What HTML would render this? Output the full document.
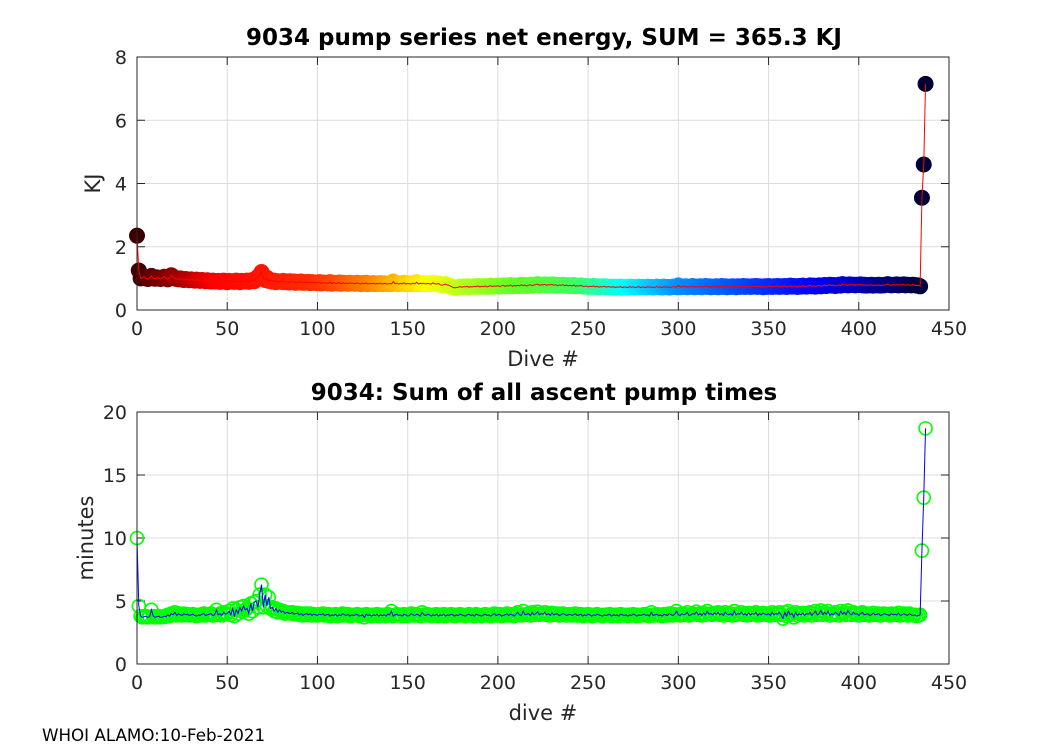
<!DOCTYPE html>
<html><head><meta charset="utf-8">
<style>
body{margin:0;background:#fff;}
svg{display:block;font-family:"DejaVu Sans","Liberation Sans",sans-serif;}
</style></head>
<body>
<svg id="chart" width="1050" height="750" viewBox="0 0 1050 750"></svg>
<script>
const energyKJ=[2.35,1.25,1.0,1.02,1.05,1.0,0.98,1.02,1.08,1.0,0.99,1.03,1.0,0.98,1.01,1.05,1.0,0.97,1.02,1.1,
1.05,1.0,0.98,0.97,1.0,0.96,0.95,0.98,0.96,0.94,0.97,0.95,0.93,0.96,0.94,0.92,0.95,0.93,0.91,0.94,
0.92,0.9,0.93,0.91,0.9,0.92,0.89,0.91,0.93,0.9,0.88,0.92,0.9,0.91,0.89,0.93,0.9,0.88,0.92,0.91,
0.9,0.93,0.89,0.92,0.95,0.91,1.0,1.05,1.1,1.2,1.0,0.95,1.02,0.92,0.95,0.9,0.93,0.88,0.91,0.9,
0.89,0.92,0.88,0.9,0.87,0.91,0.88,0.9,0.86,0.89,0.87,0.9,0.86,0.88,0.87,0.89,0.85,0.88,0.86,0.87,
0.85,0.88,0.84,0.87,0.85,0.86,0.84,0.88,0.83,0.86,0.85,0.84,0.87,0.83,0.86,0.84,0.85,0.83,0.86,0.84,
0.85,0.83,0.86,0.84,0.82,0.85,0.83,0.86,0.82,0.84,0.83,0.85,0.82,0.84,0.83,0.85,0.82,0.84,0.83,0.82,
0.84,0.82,0.9,0.83,0.85,0.82,0.84,0.83,0.86,0.82,0.84,0.83,0.82,0.85,0.83,0.88,0.82,0.84,0.83,0.85,
0.82,0.84,0.83,0.82,0.86,0.83,0.82,0.84,0.8,0.78,0.8,0.82,0.79,0.78,0.75,0.72,0.7,0.71,0.72,0.74,
0.72,0.74,0.73,0.75,0.72,0.74,0.73,0.75,0.74,0.76,0.73,0.75,0.74,0.76,0.73,0.75,0.77,0.74,0.76,0.75,
0.77,0.74,0.76,0.78,0.75,0.77,0.76,0.79,0.75,0.77,0.76,0.78,0.76,0.8,0.77,0.79,0.76,0.78,0.8,0.77,
0.79,0.8,0.82,0.78,0.8,0.79,0.81,0.78,0.8,0.79,0.81,0.78,0.8,0.77,0.79,0.78,0.8,0.77,0.79,0.76,
0.78,0.76,0.79,0.75,0.77,0.76,0.78,0.75,0.74,0.76,0.73,0.75,0.74,0.76,0.73,0.75,0.72,0.74,0.73,0.75,
0.72,0.74,0.73,0.72,0.74,0.71,0.73,0.72,0.74,0.71,0.73,0.72,0.71,0.74,0.72,0.73,0.71,0.72,0.74,0.71,
0.73,0.72,0.71,0.74,0.72,0.73,0.71,0.72,0.74,0.72,0.73,0.71,0.74,0.72,0.73,0.71,0.72,0.74,0.73,0.72,
0.78,0.72,0.74,0.73,0.75,0.72,0.74,0.73,0.76,0.72,0.74,0.73,0.75,0.72,0.74,0.76,0.73,0.75,0.72,0.74,
0.73,0.75,0.72,0.74,0.76,0.73,0.75,0.72,0.74,0.73,0.75,0.74,0.72,0.75,0.73,0.74,0.76,0.73,0.75,0.74,
0.73,0.75,0.74,0.76,0.73,0.75,0.74,0.72,0.75,0.73,0.76,0.74,0.73,0.75,0.74,0.76,0.73,0.75,0.74,0.76,
0.73,0.75,0.77,0.74,0.76,0.75,0.73,0.76,0.74,0.77,0.75,0.74,0.76,0.78,0.75,0.77,0.74,0.76,0.78,0.75,
0.77,0.79,0.76,0.78,0.8,0.77,0.79,0.76,0.78,0.8,0.77,0.82,0.79,0.8,0.78,0.81,0.79,0.8,0.78,0.8,
0.79,0.81,0.78,0.8,0.77,0.79,0.78,0.8,0.77,0.79,0.78,0.8,0.77,0.79,0.78,0.8,0.82,0.79,0.78,0.8,
0.79,0.81,0.78,0.8,0.79,0.81,0.78,0.8,0.79,0.78,0.8,0.79,0.77,0.78,0.75,3.55,4.6,7.15];
const pumpMinutes=[10,4.6,3.8,3.7,3.75,3.8,3.7,3.75,4.3,3.8,3.7,3.75,3.8,3.7,3.72,3.8,3.75,3.9,3.8,4.0,
3.9,4.1,3.85,4.0,3.9,3.85,4.0,3.9,3.95,3.85,3.9,3.95,3.85,3.8,3.9,3.85,3.95,4.0,3.85,3.9,
3.95,4.0,3.85,3.9,4.3,3.9,4.0,3.85,4.1,3.95,4.0,4.2,3.9,4.4,3.8,4.3,4.0,4.5,4.2,4.6,
4.3,4.4,4.0,4.8,4.2,4.9,5.0,4.5,5.5,6.3,4.5,5.5,4.6,5.3,4.4,4.5,4.2,4.4,4.1,4.3,
4.1,4.2,4.0,4.1,4.05,4.0,4.1,3.95,4.0,4.05,3.9,4.0,3.85,3.95,4.0,3.9,4.0,3.85,3.95,3.9,
3.85,3.95,3.9,4.0,3.85,3.9,3.95,3.8,3.9,3.85,3.95,3.8,3.9,3.85,4.0,3.9,3.85,3.95,3.8,3.9,
3.85,3.9,3.95,3.8,3.85,3.9,3.7,3.95,3.85,3.9,3.8,3.9,3.85,3.95,3.8,3.9,3.85,3.9,3.8,3.95,
3.9,4.2,3.8,3.9,3.95,3.85,3.9,3.8,3.95,3.9,3.8,3.85,4.0,3.9,3.85,3.95,3.9,3.8,4.1,3.9,
3.85,3.95,3.9,3.8,3.9,3.85,3.95,3.8,3.9,3.85,3.95,3.8,3.9,3.85,3.95,3.9,3.8,3.9,3.85,3.95,
3.9,3.85,3.8,3.9,3.95,3.85,3.9,3.8,3.95,3.9,3.85,3.8,3.9,3.95,3.85,3.9,3.8,3.9,4.0,3.85,
3.9,3.95,3.8,3.85,3.9,4.0,3.85,3.95,3.9,3.8,3.95,4.1,3.9,3.85,4.2,3.9,3.95,4.0,3.85,4.1,
3.9,4.0,4.15,3.9,4.0,3.95,4.1,3.9,4.0,3.85,4.05,3.9,3.95,4.0,3.85,3.9,4.0,3.95,3.85,3.9,
3.95,3.85,3.9,4.0,3.85,3.9,3.95,3.8,3.9,3.85,3.95,3.9,3.8,3.9,3.85,3.95,3.9,3.85,3.8,3.9,
3.85,3.9,3.95,3.8,3.9,3.85,3.9,3.8,3.95,3.9,3.85,3.9,3.8,3.9,3.85,3.95,3.9,3.8,3.9,3.85,
3.9,3.95,3.85,3.9,3.8,4.1,3.85,3.9,3.95,3.85,3.9,3.8,3.95,3.9,3.85,4.0,3.9,3.85,3.95,4.2,
3.9,3.85,4.0,3.9,3.95,4.1,3.85,3.9,4.0,3.95,4.15,3.9,4.0,3.85,4.05,3.9,4.2,3.95,4.0,3.9,
4.05,3.95,4.1,3.9,4.0,3.85,4.1,3.95,3.9,4.0,3.85,4.2,3.9,4.0,3.95,4.1,3.9,4.0,3.85,4.05,
3.9,4.0,3.95,4.1,3.85,4.0,3.9,4.05,3.95,3.9,4.0,3.85,4.1,3.9,4.0,3.95,4.1,3.9,3.6,4.1,
3.8,4.2,3.9,4.0,3.7,4.1,3.85,4.0,3.9,4.05,3.85,4.0,3.95,4.1,3.85,4.0,4.2,3.9,4.0,4.25,
3.9,4.1,3.95,4.2,3.85,4.0,3.9,4.1,4.0,3.85,4.2,3.95,4.1,3.9,4.25,4.0,3.9,4.1,3.95,4.0,
3.85,4.0,4.1,3.9,3.95,4.0,3.85,3.9,4.05,3.9,3.95,4.0,3.85,3.9,4.0,3.95,3.9,3.85,4.0,3.9,
3.95,3.9,4.05,3.85,3.9,4.0,3.9,3.85,4.0,3.9,3.85,3.9,3.8,3.85,3.9,9.0,13.2,18.7];
const xTicks=[0,50,100,150,200,250,300,350,400,450];
const yTicksTop=[0,2,4,6,8];
const yTicksBottom=[0,5,10,15,20];

const NS='http://www.w3.org/2000/svg';
const svg=document.getElementById('chart');
function mk(tag,attrs,parent){const e=document.createElementNS(NS,tag);for(const k in attrs)e.setAttribute(k,attrs[k]);(parent||svg).appendChild(e);return e;}
function txt(s,attrs,parent){const e=mk('text',attrs,parent);e.textContent=s;return e;}
const L=137,R=949;
function xs(v){return L+(v-0)/(450-0)*(R-L);}
const cmapF=[0,0.103,0.23,0.295,0.37,0.425,0.485,0.56,0.62,0.69,0.80,0.86,0.915,1];
const cmapC=[[58,0,0],[255,0,0],[255,48,0],[255,128,0],[255,255,0],[170,255,30],[96,255,32],[64,255,96],[0,255,255],[0,144,255],[0,48,255],[0,0,255],[0,0,190],[0,0,52]];
function cmap(i,n){const f=i/(n-1);let k=0;while(k<cmapF.length-2&&f>cmapF[k+1])k++;const u=(f-cmapF[k])/(cmapF[k+1]-cmapF[k]);const a=cmapC[k],b=cmapC[k+1];return `rgb(${Math.round(a[0]+(b[0]-a[0])*u)},${Math.round(a[1]+(b[1]-a[1])*u)},${Math.round(a[2]+(b[2]-a[2])*u)})`;}

function axes(name,top,bot,ymax,yTicks,title,xlabel,ylabel,ylabX){
  const g=mk('g',{}, svg);
  
  
  const ys=v=>bot-v/ymax*(bot-top);
  mk('rect',{x:L,y:top,width:R-L,height:bot-top,fill:'#fff'},g);
  xTicks.forEach(t=>{
    mk('line',{x1:xs(t),x2:xs(t),y1:top,y2:bot,stroke:'#dcdcdc','stroke-width':1},g);
    mk('line',{x1:xs(t),x2:xs(t),y1:bot,y2:bot-8,stroke:'#262626'},g);
    mk('line',{x1:xs(t),x2:xs(t),y1:top,y2:top+8,stroke:'#262626'},g);
    const tl=txt(String(t),{x:xs(t),y:bot+25,'text-anchor':'middle','font-size':19,fill:'#262626'},g);
    
    
  });
  yTicks.forEach(t=>{
    mk('line',{x1:L,x2:R,y1:ys(t),y2:ys(t),stroke:'#dcdcdc','stroke-width':1},g);
    mk('line',{x1:L,x2:L+8,y1:ys(t),y2:ys(t),stroke:'#262626'},g);
    mk('line',{x1:R,x2:R-8,y1:ys(t),y2:ys(t),stroke:'#262626'},g);
    const tl=txt(String(t),{x:L-10,y:ys(t)+7,'text-anchor':'end','font-size':19,fill:'#262626'},g);
    
    
  });
  const tt=txt(title,{x:(L+R)/2+1,y:top-12,'text-anchor':'middle','font-size':23,'font-weight':'bold',fill:'#000'},g);
  
  
  const xl=txt(xlabel,{x:(L+R)/2,y:bot+56,'text-anchor':'middle','font-size':21,fill:'#262626'},g);
  
  
  const yl=txt(ylabel,{x:ylabX,y:(top+bot)/2,'text-anchor':'middle','font-size':21,fill:'#262626',transform:`rotate(-90 ${ylabX} ${(top+bot)/2})`},g);
  
  
  return {g,ys};
}

const A=axes('energy-axes',57,310,8,yTicksTop,'9034 pump series net energy, SUM = 365.3 KJ','Dive #','KJ',100);
const mg=mk('g',{},A.g);


energyKJ.forEach((v,i)=>{
  const c=mk('circle',{cx:xs(i),cy:A.ys(v),r:8,fill:cmap(i,energyKJ.length)},mg);
  
  
});
const l1=mk('polyline',{points:energyKJ.map((v,i)=>xs(i)+','+A.ys(v)).join(' '),fill:'none',stroke:'#ff0000','stroke-width':1},A.g);


mk('rect',{x:L,y:57,width:R-L,height:253,fill:'none',stroke:'#262626','stroke-width':1},A.g);

const B=axes('pump-time-axes',412,664,20,yTicksBottom,'9034: Sum of all ascent pump times','dive #','minutes',93);
const pg=mk('g',{},B.g);


pumpMinutes.forEach((v,i)=>{
  const c=mk('circle',{cx:xs(i),cy:B.ys(v),r:6.5,fill:'none',stroke:'#00ff00','stroke-width':1.6},pg);
  
  
});
const l2=mk('polyline',{points:pumpMinutes.map((v,i)=>xs(i)+','+B.ys(v)).join(' '),fill:'none',stroke:'#0000ff','stroke-width':1},B.g);


mk('rect',{x:L,y:412,width:R-L,height:252,fill:'none',stroke:'#262626','stroke-width':1},B.g);

const f=txt('WHOI ALAMO:10-Feb-2021',{x:42,y:741,'font-size':16.7,fill:'#000'});


</script>
</body></html>
